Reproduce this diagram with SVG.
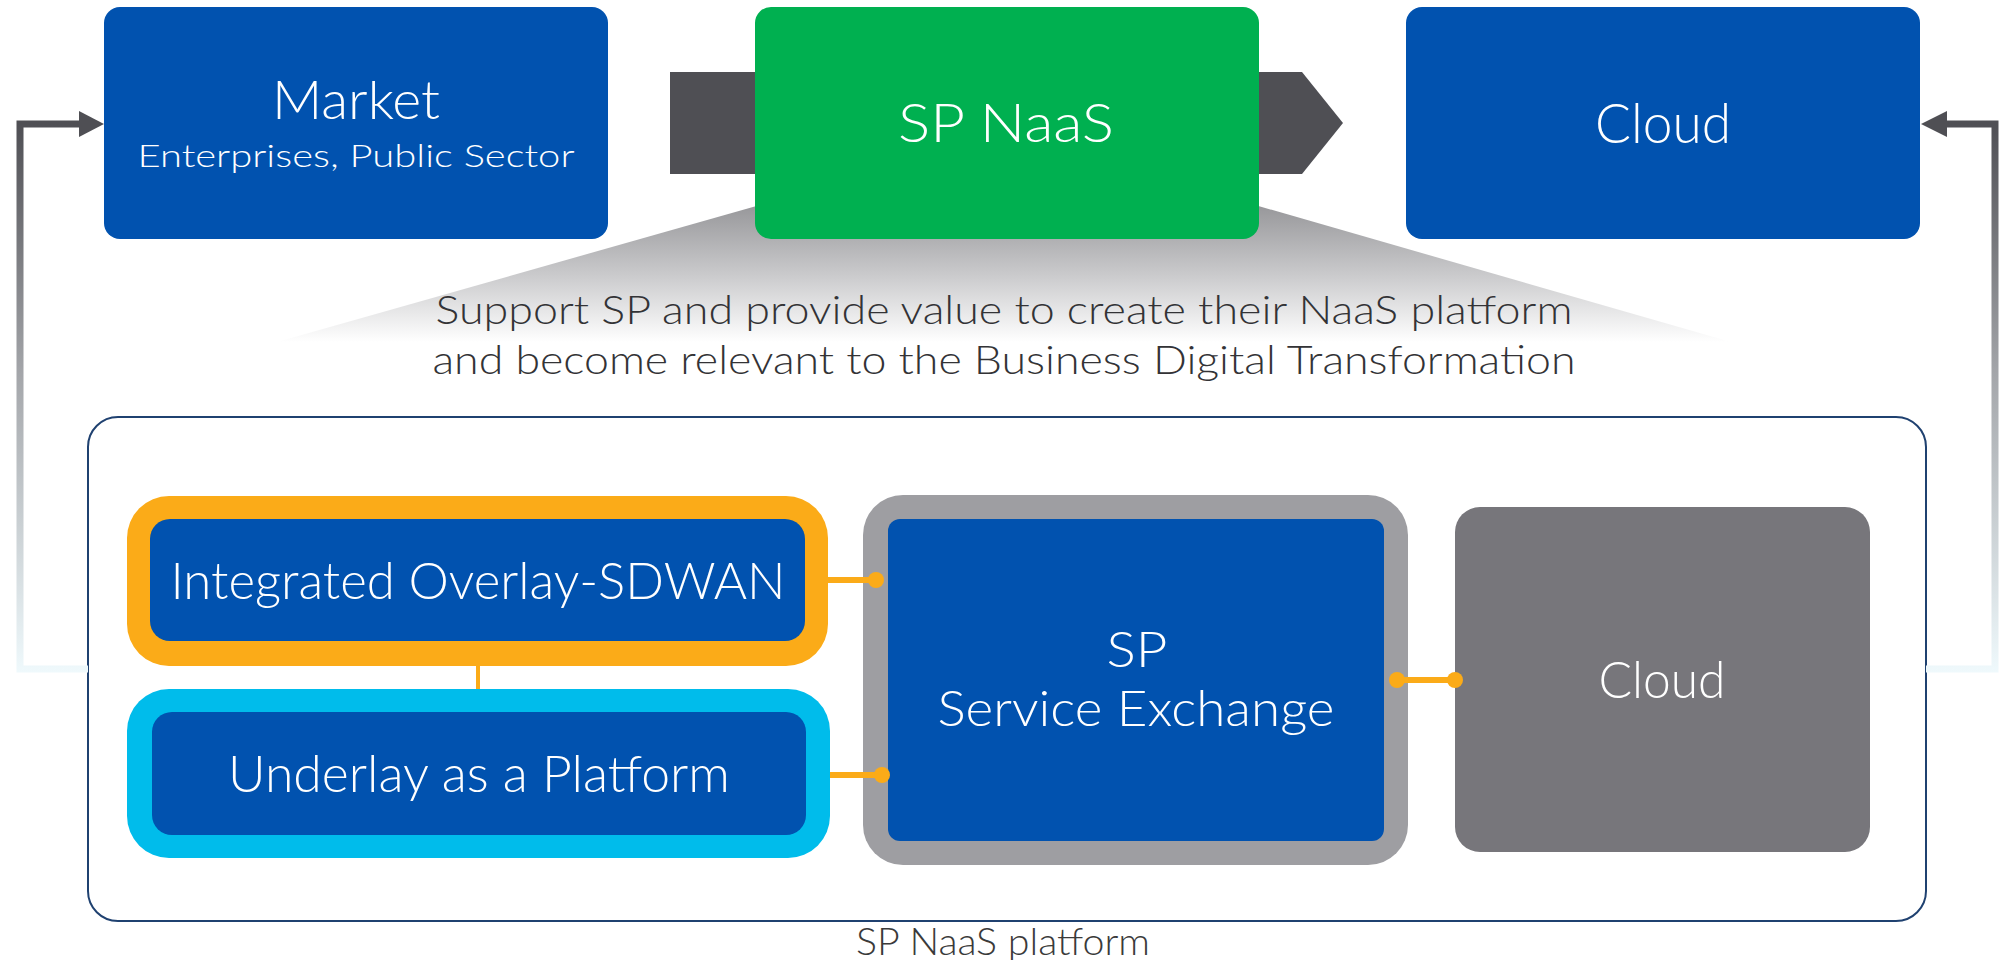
<svg xmlns="http://www.w3.org/2000/svg" width="2000" height="960" viewBox="0 0 2000 960">
<defs>
<linearGradient id="fb" gradientUnits="userSpaceOnUse" x1="0" y1="124" x2="0" y2="672">
<stop offset="0" stop-color="#4f4f54"/>
<stop offset="0.45" stop-color="#a3a5a9"/>
<stop offset="1" stop-color="#eff9fc"/>
</linearGradient>
<linearGradient id="cone" gradientUnits="userSpaceOnUse" x1="0" y1="205" x2="0" y2="342">
<stop offset="0" stop-color="#97979a"/>
<stop offset="0.5" stop-color="#c9c9cb"/>
<stop offset="1" stop-color="#ffffff"/>
</linearGradient>
<style>
.blue{fill:#0152af}
.wt{fill:#ffffff;font-family:Lato,Roboto,"Liberation Sans",sans-serif;font-weight:300;text-anchor:middle}
.dk{fill:#333336;font-family:Lato,Roboto,"Liberation Sans",sans-serif;font-weight:300;text-anchor:middle}
.fbl{fill:none;stroke:url(#fb);stroke-width:7}
.ah{fill:#4f4f54}
.or{stroke:#fbab18;fill:none}
.dot{fill:#fbab18}
</style>
</defs>
<rect width="2000" height="960" fill="#ffffff"/>

<polygon id="cone-shape" points="760,205 1255,205 1731,342 277,342" fill="url(#cone)"/>
<text class="dk" x="1004" y="324" font-size="40" textLength="1137" lengthAdjust="spacingAndGlyphs">Support SP and provide value to create their NaaS platform</text>
<text class="dk" x="1004" y="374" font-size="40" textLength="1143" lengthAdjust="spacingAndGlyphs">and become relevant to the Business Digital Transformation</text>

<g id="platform">
<rect x="88" y="417" width="1838" height="504" rx="30" fill="#ffffff" stroke="#1f4170" stroke-width="2"/>
<text class="dk" x="1003" y="955" font-size="37" textLength="294" lengthAdjust="spacingAndGlyphs" style="fill:#3a3a3a">SP NaaS platform</text>
</g>

<g id="market">
<rect class="blue" x="104" y="7" width="504" height="232" rx="16"/>
<text class="wt" x="356" y="119" font-size="53" textLength="168" lengthAdjust="spacingAndGlyphs">Market</text>
<text class="wt" x="356" y="167" font-size="31" textLength="437" lengthAdjust="spacingAndGlyphs">Enterprises, Public Sector</text>
</g>

<g id="sp-naas">
<polygon points="670,72 1302,72 1343,123 1302,174 670,174" fill="#4f4f54"/>
<rect x="755" y="7" width="504" height="232" rx="16" fill="#00b050"/>
<text class="wt" x="1006" y="142" font-size="54" textLength="216" lengthAdjust="spacingAndGlyphs">SP NaaS</text>
</g>

<g id="cloud-top">
<rect class="blue" x="1406" y="7" width="514" height="232" rx="16"/>
<text class="wt" x="1663" y="143" font-size="55" textLength="136" lengthAdjust="spacingAndGlyphs">Cloud</text>
</g>

<g id="overlay-sdwan">
<rect x="127" y="496" width="701" height="170" rx="42" fill="#fbab18"/>
<rect class="blue" x="150" y="519" width="655" height="122" rx="20"/>
<text class="wt" x="478" y="599" font-size="51" textLength="615" lengthAdjust="spacingAndGlyphs">Integrated Overlay-SDWAN</text>
</g>

<g id="underlay">
<rect x="127" y="689" width="703" height="169" rx="42" fill="#00bceb"/>
<rect class="blue" x="152" y="712" width="654" height="123" rx="20"/>
<text class="wt" x="479" y="792" font-size="51" textLength="502" lengthAdjust="spacingAndGlyphs">Underlay as a Platform</text>
</g>

<g id="service-exchange">
<rect x="863" y="495" width="545" height="370" rx="40" fill="#9e9ea2"/>
<rect class="blue" x="888" y="519" width="496" height="322" rx="12"/>
<text class="wt" x="1137" y="667" font-size="50" textLength="61" lengthAdjust="spacingAndGlyphs">SP</text>
<text class="wt" x="1136" y="726" font-size="50" textLength="397" lengthAdjust="spacingAndGlyphs">Service Exchange</text>
</g>

<g id="cloud-bottom">
<rect x="1455" y="507" width="415" height="345" rx="25" fill="#77767b"/>
<text class="wt" x="1662" y="698" font-size="52" textLength="127" lengthAdjust="spacingAndGlyphs">Cloud</text>
</g>

<g id="connectors">
<path class="fbl" d="M88 669 H20 V124 H82"/>
<polygon class="ah" points="79,111 104,124 79,137"/>
<path class="fbl" d="M1926 669 H1995 V124 H1944"/>
<polygon class="ah" points="1947,111 1921,124 1947,137"/>
<line class="or" x1="478" y1="666" x2="478" y2="689" stroke-width="4"/>
<line class="or" x1="828" y1="580" x2="876" y2="580" stroke-width="6"/>
<circle class="dot" cx="876" cy="580" r="8"/>
<line class="or" x1="830" y1="775" x2="882" y2="775" stroke-width="6"/>
<circle class="dot" cx="882" cy="775" r="8"/>
<line class="or" x1="1397" y1="680" x2="1455" y2="680" stroke-width="6"/>
<circle class="dot" cx="1397" cy="680" r="8"/>
<circle class="dot" cx="1455" cy="680" r="8"/>
</g>
</svg>
